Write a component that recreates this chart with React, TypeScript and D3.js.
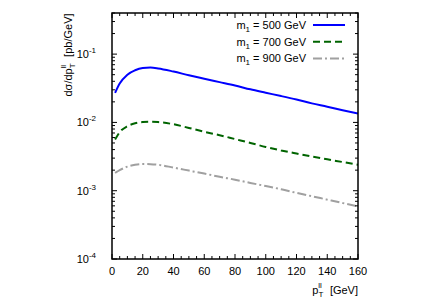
import React from 'react';
import * as d3 from 'd3';

const pT = [2, 5, 10, 15, 20, 25, 30, 40, 50, 60, 70, 80, 90, 100, 110, 120, 130, 140, 150, 160];
const m500 = [0.027, 0.037, 0.05, 0.058, 0.0625, 0.0635, 0.0618, 0.0556, 0.049, 0.0436, 0.0389, 0.0347, 0.0305, 0.0272, 0.0243, 0.0216, 0.019, 0.017, 0.0151, 0.0135];
const m700 = [0.0056, 0.0072, 0.0088, 0.0097, 0.0101, 0.0102, 0.0101, 0.0094, 0.0083, 0.0073, 0.0065, 0.0057, 0.005, 0.00437, 0.00389, 0.0035, 0.00316, 0.00288, 0.00263, 0.0024];
const m900 = [0.00182, 0.002, 0.00225, 0.0024, 0.00246, 0.00245, 0.0024, 0.00218, 0.00197, 0.00178, 0.0016, 0.00145, 0.0013, 0.00117, 0.00105, 0.00093, 0.00083, 0.00074, 0.00066, 0.00059];
const seriesNames = ['500', '700', '900'];
const xTicks = [0, 20, 40, 60, 80, 100, 120, 140, 160];
const yExps = [-4, -3, -2, -1];

const series = [
  { name: seriesNames[0], values: m500, color: '#0000ff', dash: '' },
  { name: seriesNames[1], values: m700, color: '#006400', dash: '7,4' },
  { name: seriesNames[2], values: m900, color: '#a0a0a0', dash: '9,3,2,3' },
];

const W = 436;
const H = 305;
const m = { left: 112, right: 78, top: 13, bottom: 46 };

const App: React.FC = () => {
  const x = d3.scaleLinear().domain([0, 160]).range([m.left, W - m.right]);
  const y = d3.scaleLog().domain([1e-4, 0.4]).range([H - m.bottom, m.top]);

  const minorX = d3.range(0, 161, 5).filter(v => v % 20 !== 0);
  const minorY: number[] = [];
  for (const e of [-4, -3, -2, -1]) {
    for (let k = 2; k <= 9; k++) {
      const v = k * Math.pow(10, e);
      if (v <= 0.4) minorY.push(v);
    }
  }

  const line = d3
    .line<number>()
    .x((_, i) => x(pT[i]))
    .y(d => y(d))
    .curve(d3.curveMonotoneX);

  const font = 'Liberation Sans, Arial, sans-serif';
  const x0 = m.left;
  const x1 = W - m.right;
  const y0 = H - m.bottom;
  const y1 = m.top;

  return (
    <svg width={W} height={H} style={{ position: 'absolute', left: 0, top: 0 }} fontFamily={font}>
      <rect width={W} height={H} fill="#fff" />
      <defs>
        <clipPath id="clip">
          <rect x={x0} y={y1} width={x1 - x0} height={y0 - y1} />
        </clipPath>
      </defs>
      <g clipPath="url(#clip)">
        {series.map(s => (
          <path
            key={s.name}
            d={line(s.values) || ''}
            fill="none"
            stroke={s.color}
            strokeWidth={2}
            strokeDasharray={s.dash}
          />
        ))}
      </g>

      {/* ticks */}
      <g stroke="#000" strokeWidth={1}>
        {xTicks.map(t => (
          <g key={'xt' + t}>
            <line x1={x(t)} x2={x(t)} y1={y0} y2={y0 - 5} />
            <line x1={x(t)} x2={x(t)} y1={y1} y2={y1 + 5} />
          </g>
        ))}
        {minorX.map(t => (
          <g key={'xm' + t}>
            <line x1={x(t)} x2={x(t)} y1={y0} y2={y0 - 3} />
            <line x1={x(t)} x2={x(t)} y1={y1} y2={y1 + 3} />
          </g>
        ))}
        {yExps.map(e => (
          <g key={'yt' + e}>
            <line x1={x0} x2={x0 + 5} y1={y(Math.pow(10, e))} y2={y(Math.pow(10, e))} />
            <line x1={x1} x2={x1 - 5} y1={y(Math.pow(10, e))} y2={y(Math.pow(10, e))} />
          </g>
        ))}
        {minorY.map(v => (
          <g key={'ym' + v}>
            <line x1={x0} x2={x0 + 3} y1={y(v)} y2={y(v)} />
            <line x1={x1} x2={x1 - 3} y1={y(v)} y2={y(v)} />
          </g>
        ))}
      </g>
      <rect x={x0} y={y1} width={x1 - x0} height={y0 - y1} fill="none" stroke="#000" strokeWidth={1.5} />

      {/* tick labels */}
      <g fontSize={11} fill="#000">
        {xTicks.map(t => (
          <text key={'xl' + t} x={x(t)} y={y0 + 16} textAnchor="middle">
            {t}
          </text>
        ))}
        {yExps.map(e => (
          <text key={'yl' + e} x={x0 - 16} y={y(Math.pow(10, e)) + 4} textAnchor="end">
            10
            <tspan fontSize={8} dy={-5}>
              {e}
            </tspan>
          </text>
        ))}
      </g>

      {/* axis titles */}
      <text x={x1} y={H - 11} textAnchor="end" fontSize={11}>
        p
        <tspan fontSize={8} dy={3}>T</tspan>
        <tspan fontSize={8} dx={-5} dy={-9}>ll</tspan>
        <tspan dy={6} dx={8}>[GeV]</tspan>
      </text>
      <text transform={`translate(72, 55) rotate(-90)`} textAnchor="middle" fontSize={11}>
        dσ/dp
        <tspan fontSize={8} dy={3}>T</tspan>
        <tspan fontSize={8} dx={-5} dy={-9}>ll</tspan>
        <tspan dy={6} dx={8}>[pb/GeV]</tspan>
      </text>

      {/* legend */}
      <g fontSize={11}>
        {series.map((s, i) => {
          const ly = 25 + i * 16.7;
          return (
            <g key={'lg' + s.name}>
              <text x={306} y={ly + 4} textAnchor="end">
                m<tspan fontSize={8} dy={3}>1</tspan>
                <tspan dy={-3}> = {s.name} GeV</tspan>
              </text>
              <line x1={313} x2={345} y1={ly} y2={ly} stroke={s.color} strokeWidth={2} strokeDasharray={s.dash} />
            </g>
          );
        })}
      </g>
    </svg>
  );
};

export default App;
